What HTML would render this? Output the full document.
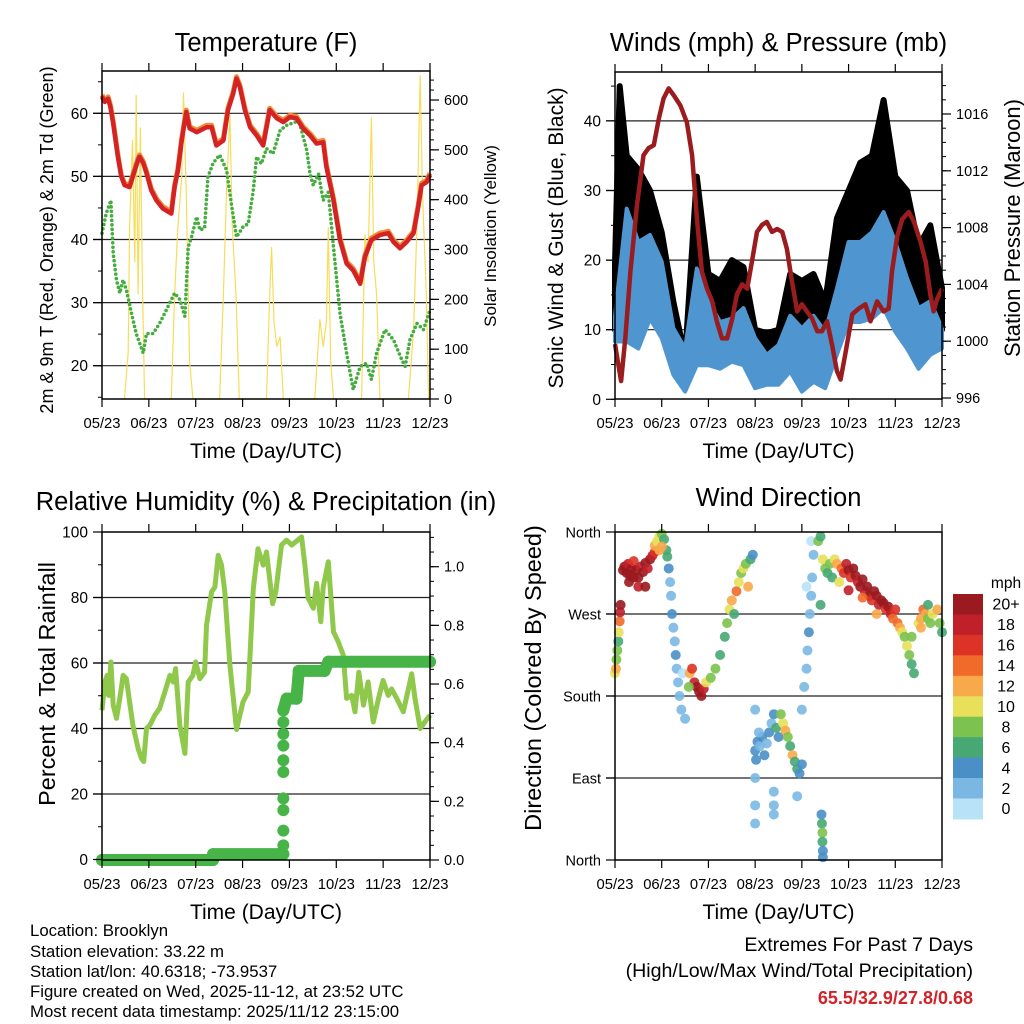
<!DOCTYPE html>
<html><head><meta charset="utf-8">
<style>
html,body{margin:0;padding:0;background:#fff;}
svg{display:block;font-family:"Liberation Sans",Arial,sans-serif;}
</style></head>
<body>
<svg id="root" width="1024" height="1024" viewBox="0 0 1024 1024" xmlns="http://www.w3.org/2000/svg">
<rect width="1024" height="1024" fill="#fff"/>
<g id="p1"></g>
<g id="p2"></g>
<g id="p3"></g>
<g id="p4"></g>
<g id="cb"></g>
<g font-size="16.8" fill="#000">
<text x="30" y="936">Location: Brooklyn</text>
<text x="30" y="957">Station elevation: 33.22 m</text>
<text x="30" y="977">Station lat/lon: 40.6318; -73.9537</text>
<text x="30" y="997">Figure created on Wed, 2025-11-12, at 23:52 UTC</text>
<text x="30" y="1017">Most recent data timestamp: 2025/11/12 23:15:00</text>
</g>
<g text-anchor="end">
<text x="973" y="951" font-size="19.6">Extremes For Past 7 Days</text>
<text x="973" y="977" font-size="19.6">(High/Low/Max Wind/Total Precipitation)</text>
<text x="973" y="1004" font-size="18" font-weight="bold" fill="#d0232a">65.5/32.9/27.8/0.68</text>
</g>
</svg>
<script>
// ---------- data ----------
const xTickLabels=["05/23","06/23","07/23","08/23","09/23","10/23","11/23","12/23"];
const tempT=[0,.06,.13,.18,.24,.34,.41,.48,.59,.66,.77,.80,.88,.95,1.05,1.16,1.30,1.41,1.48,1.55,1.62,1.70,1.80,1.87,2.02,2.23,2.34,2.44,2.59,2.69,2.80,2.87,2.94,3.05,3.16,3.30,3.44,3.58,3.73,3.87,4.01,4.15,4.29,4.44,4.58,4.72,4.79,4.94,5.08,5.22,5.36,5.51,5.61,5.75,5.93,6.11,6.22,6.36,6.50,6.65,6.75,6.82,6.93,7.0];
const temp2m=[62.6,61.8,62.3,61,58.4,53.1,50,48.6,48.3,50,52.6,53.1,52.1,50.5,47.8,46.2,44.9,44.4,44.1,48.3,50.9,55.7,60.2,57.6,57,57.8,57.8,54.9,55.7,60.5,63.1,65.5,64.2,60.5,57.8,56.5,54.9,60.5,59.2,58.6,59.4,59.2,57.6,56.5,55.2,55.4,51.5,46.2,39.9,36.2,35.1,33,37.2,39.9,40.7,41,39.6,38.6,39.6,41,45.2,48.6,49.1,50.2];
const temp9m=[62.9,62.1,62.6,61.3,58.7,53.4,50.3,48.9,48.6,50.3,52.9,53.4,52.4,50.8,48.1,46.5,45.2,44.7,44.4,48.6,51.2,56,60.5,57.9,57.3,58.1,58.1,55.2,56,60.8,63.4,65.8,64.5,60.8,58.1,56.8,55.2,60.8,59.5,58.9,59.7,59.5,57.9,56.8,55.5,55.7,51.8,46.5,40.2,36.5,35.4,33.3,37.5,40.2,41,41.3,39.9,38.9,39.9,41.3,45.5,48.9,49.4,50.5];
const dewT=[0,.09,.19,.24,.31,.38,.45,.52,.63,.73,.88,.95,1.09,1.23,1.37,1.55,1.66,1.77,1.84,1.91,2.02,2.09,2.19,2.26,2.37,2.51,2.66,2.76,2.87,3.01,3.12,3.23,3.30,3.40,3.51,3.65,3.80,3.94,4.12,4.22,4.37,4.44,4.51,4.62,4.72,4.83,4.94,5.08,5.22,5.36,5.51,5.65,5.75,5.86,6.04,6.22,6.40,6.47,6.57,6.72,6.86,7.0];
const dewVals=[41,44.1,46.2,37.8,33.6,31.5,33.6,32,28.3,25.1,22,25.1,25.1,26.7,28.8,31.5,30.5,27.8,38.8,40.4,43.6,41.5,41.8,49.9,52.1,53.4,51,45.7,40.4,42,42.5,47.8,53.1,52,54.4,53.6,57.3,58.1,58.6,58.4,54.1,50.4,48.6,50.4,46.2,47.5,38.8,28.3,22,16.2,19.9,20.4,17.8,22,25.7,24.1,20.9,19.9,24.1,26.7,25.7,28.8];
const solarT=[.48,.56,.59,.65,.70,.73,.77,.82,.86,.91,1.48,1.55,1.62,1.70,1.74,1.80,1.87,1.94,2.51,2.59,2.66,2.73,2.78,2.86,2.93,3.51,3.58,3.62,3.67,3.73,3.80,3.87,4.54,4.65,4.72,4.79,4.83,4.88,4.94,5.54,5.61,5.68,5.75,5.80,5.86,5.93,6.54,6.65,6.72,6.79,6.84,6.92,6.97];
const solarVals=[0,95,345,520,275,610,210,545,245,0,0,210,345,445,615,410,75,0,0,210,420,570,345,210,0,0,210,305,155,105,125,0,0,160,105,155,345,75,0,0,330,275,565,275,210,0,0,140,345,650,410,210,0];
const windT=[0,.25,.5,.75,1,1.25,1.5,1.75,2,2.25,2.5,2.75,3,3.25,3.5,3.75,4,4.25,4.5,4.75,5,5.25,5.5,5.75,6,6.25,6.5,6.75,7];
const sustHigh=[12,27.4,22.6,23.6,19.8,10.2,7.3,18.8,14.1,11.1,11.6,13.1,8.8,6.4,7.8,12,10.2,12,9.7,15.9,22.6,22.6,24,26.9,22.6,17.4,13.1,14.1,10.2];
const sustLow=[8.3,8.3,7.3,11.6,8.8,3.5,1.1,4.9,4.9,4.4,5.4,4.9,1.6,2.1,2.1,4,1.1,2.5,1.6,6.4,11.1,11.1,11.6,13.1,9.7,7.3,4.4,6.4,7.3];
const gustT=[0,.1,.25,.5,.75,1,1.25,1.5,1.75,2,2.25,2.5,2.75,3,3.25,3.5,3.75,4,4.25,4.5,4.75,5,5.25,5.5,5.75,6,6.25,6.5,6.75,7];
const gustHigh=[19.5,45,35,33,30,24,14,6,32,18,17,20,19,10,9.5,10,18,17,18,14,26,30,34,35,43,32,30,22,25,16];
const gustLow=[10,12,16,14,15,12,5,1.5,12,10,7,9,9,5,5,5,8,6,8,5,12,16,16,18,18,16,13,8,10,10];
const presT=[0,.08,.13,.22,.33,.47,.61,.72,.83,.94,1.04,1.15,1.26,1.40,1.54,1.65,1.76,1.86,1.97,2.08,2.18,2.29,2.40,2.51,2.61,2.72,2.83,2.93,3.04,3.15,3.25,3.36,3.47,3.58,3.68,3.79,3.90,4.00,4.11,4.22,4.33,4.43,4.54,4.65,4.75,4.83,4.93,5.08,5.22,5.36,5.47,5.61,5.75,5.86,5.93,6.04,6.15,6.29,6.40,6.54,6.65,6.75,6.82,6.90,7.0];
const presVals=[999.8,998.2,997.2,1000.2,1004.9,1009.6,1013.1,1013.6,1013.8,1015.7,1017.1,1017.8,1017.3,1016.6,1015.4,1013.1,1008.4,1004.9,1003.7,1002.8,1001.4,1000.2,1000.2,1001.6,1003.3,1004,1003.7,1005.6,1007.7,1008.2,1008.4,1007.7,1007.9,1007.7,1006.5,1004.2,1002.1,1002.6,1002.1,1001.6,1000.7,1000.7,1001.4,999.7,997.9,997.3,999.1,1001.9,1002.3,1002.6,1001.4,1002.8,1002.1,1002.3,1004.9,1007.4,1008.6,1009.1,1008.4,1007,1005.6,1003.3,1002.1,1003,1003.7];
const rhT=[0,.06,.11,.14,.19,.24,.31,.38,.45,.52,.59,.66,.77,.84,.89,.95,1.02,1.13,1.23,1.34,1.45,1.52,1.57,1.66,1.77,1.84,1.94,2.00,2.09,2.19,2.23,2.34,2.41,2.48,2.55,2.62,2.73,2.87,3.01,3.12,3.23,3.33,3.44,3.51,3.64,3.71,3.83,3.94,4.05,4.26,4.33,4.40,4.51,4.58,4.67,4.72,4.83,4.94,5.04,5.15,5.22,5.33,5.40,5.48,5.58,5.68,5.79,5.90,6.00,6.11,6.18,6.29,6.43,6.54,6.61,6.68,6.79,6.89,7.0];
const rhVals=[45.6,54.2,56.2,50.1,60.3,47.1,43.1,49.2,56.2,55.2,48.1,41,33.9,30.9,29.9,40,41,44.1,46.1,51.1,56.2,54.2,58.3,41,32.4,54.2,56.2,60.3,55.2,57.2,71.5,81.7,83.2,92.9,89.9,81.7,59.4,39.7,48.1,51.1,82.7,94.9,89.9,93.9,78.1,81.7,96,97.5,96,98.5,89.9,79.8,76.7,84.3,72.6,83.2,90.9,69.5,66.5,62.4,49.2,50.1,45.1,57.2,47.1,54.2,42,49.2,54.7,50.1,52.1,49.2,45.1,52.1,56.7,49.2,40,42,44.1];
const rainT=[0,2.37,2.37,3.87,3.87,3.87,3.87,3.87,3.87,3.87,3.87,3.87,3.87,3.87,3.94,4.15,4.2,4.75,4.83,7.0];
const rainVals=[0,0,0.02,0.02,0.05,0.1,0.17,0.21,0.3,0.34,0.39,0.43,0.47,0.51,0.55,0.55,0.645,0.645,0.676,0.676];
const dirT=[0,.02,.03,.05,.07,.08,.1,.11,.12,.17,.2,.25,.28,.32,.36,.4,.45,.5,.55,.6,.65,.7,.75,.8,.85,.3,.5,.65,.4,.85,.9,.95,1.0,1.05,1.1,1.12,1.0,.95,1.15,1.18,1.2,1.22,1.25,1.28,1.3,1.32,1.35,1.38,1.42,1.5,1.45,1.6,1.65,1.7,1.75,1.8,1.85,1.9,1.95,1.58,2.05,2.15,2.25,2.35,2.4,2.45,2.5,2.6,2.65,2.7,2.75,2.8,2.9,2.95,2.85,2.55,3.0,3.05,3.1,3.15,3.2,3.25,3.3,3.35,3.4,3.45,3.5,3.02,3.08,3.0,3.0,3.0,3.4,3.4,3.4,3.0,3.55,3.6,3.65,3.7,3.75,3.8,3.85,3.9,3.95,4.0,3.9,4.0,4.05,4.1,4.12,4.15,4.17,4.2,4.22,4.1,4.25,4.2,4.42,4.43,4.44,4.44,4.45,4.45,4.35,4.4,4.45,4.5,4.55,4.6,4.65,4.7,4.75,4.8,4.4,4.85,4.9,4.95,5.0,5.05,5.1,5.15,5.2,5.25,5.3,5.35,5.4,5.45,5.5,5.55,5.6,5.65,5.7,5.75,5.8,5.85,5.9,5.95,6.0,6.05,5.0,5.3,5.6,6.1,6.15,6.2,6.25,6.3,6.35,6.4,6.35,6.5,6.55,6.6,6.65,6.7,6.75,6.8,6.9,6.95,7.0,6.55,6.7];
const dirDeg=[205,210,220,230,240,250,262,272,280,318,322,315,325,312,320,328,318,310,322,316,326,320,330,334,338,305,300,300,310,345,350,355,358,352,340,333,344,340,320,305,290,270,255,240,225,210,195,180,165,155,205,205,210,195,190,185,180,188,195,190,200,210,225,245,260,275,285,295,305,315,320,325,330,335,300,270,120,130,125,135,115,128,140,150,160,145,135,110,140,90,60,40,75,60,50,165,160,150,142,135,125,115,108,100,95,105,70,165,190,210,230,250,270,290,310,300,335,350,50,40,30,20,10,3,350,355,330,320,315,325,310,330,325,305,280,320,315,325,318,310,320,312,305,300,308,295,300,290,285,295,290,280,285,282,275,278,270,265,275,260,296,288,270,255,250,245,235,225,215,205,245,260,265,275,270,265,260,270,275,260,250,255,280];
const dirSpd=[10,12,9,8,7,10,14,18,20,20,22,20,18,22,20,16,22,20,18,22,20,18,20,18,16,21,19,22,23,12,10,11,8,7,6,6,12,13,4,3,2,4,3,2,4,2,3,2,3,2,1,12,16,18,20,22,20,18,10,8,8,9,7,6,8,10,12,14,10,9,11,8,6,4,12,6,4,4,3,5,4,3,4,3,4,6,5,5,2,2,2,2,2,2,2,2,8,10,12,8,7,12,6,6,5,4,2,2,3,2,3,4,2,3,2,1,3,1,4,6,8,6,4,4,8,6,10,8,6,9,6,10,12,10,7,14,16,18,20,16,22,20,18,22,20,18,22,20,16,22,20,18,22,20,16,20,18,14,16,15,19,15,13,12,10,8,10,9,7,6,8,10,12,14,12,9,8,10,12,8,7,13,6];
const speedColors=["#b7e2f7","#7ab8e3","#4a8fc6","#47a873","#7cc24e","#e8e05a","#f8a94a","#f06a2a","#dd3327","#c0202a","#9a1a1f"];
const speedLabels=["0","2","4","6","8","10","12","14","16","18","20+"];

// ---------- helpers ----------
const NS="http://www.w3.org/2000/svg";
function mk(parent,tag,attrs,text){const e=document.createElementNS(NS,tag);for(const k in attrs)e.setAttribute(k,attrs[k]);if(text!==undefined)e.textContent=text;parent.appendChild(e);return e;}
function pts(ts,vs,sx,sy){const n=Math.min(ts.length,vs.length);let a=[];for(let i=0;i<n;i++)a.push(sx(ts[i]).toFixed(1)+","+sy(vs[i]).toFixed(1));return a;}

function frame(g,P,opt){
  const sx=t=>P.x0+t/7*(P.x1-P.x0);
  opt.grid.forEach(v=>{const y=opt.ly(v);
    const l=mk(g,"line",{x1:P.x0-9,x2:P.x1,y1:y,y2:y,stroke:"#222","stroke-width":1.2});
    
    });
  return sx;
}
function axes(g,P,opt){
  const sx=t=>P.x0+t/7*(P.x1-P.x0);
  mk(g,"rect",{x:P.x0,y:P.y0,width:P.x1-P.x0,height:P.y1-P.y0,fill:"none",stroke:"#000","stroke-width":1.5});
  for(let d=0;d<=7;d++){const x=sx(d);
    mk(g,"line",{x1:x,x2:x,y1:P.y0,y2:P.y0-8,stroke:"#000","stroke-width":1.2});
    mk(g,"line",{x1:x,x2:x,y1:P.y1,y2:P.y1+8,stroke:"#000","stroke-width":1.2});
    const tl=mk(g,"text",{x:x,y:P.y1+29,"font-size":14.8,"text-anchor":"middle"},xTickLabels[d]);
    
    }
  const xt=mk(g,"text",{x:(P.x0+P.x1)/2,y:P.y1+59,"font-size":21,"text-anchor":"middle"},"Time (Day/UTC)");
  
  
  opt.lMinor.forEach(v=>{const y=opt.ly(v);mk(g,"line",{x1:P.x0,x2:P.x0-4,y1:y,y2:y,stroke:"#000"});});
  opt.lMajor.forEach((v,i)=>{const y=opt.ly(v);mk(g,"line",{x1:P.x0,x2:P.x0-9,y1:y,y2:y,stroke:"#000","stroke-width":1.2});
    const t=mk(g,"text",{x:P.x0-14,y:y+5.5,"font-size":opt.lfs||15.5,"text-anchor":"end"},opt.lLab[i]);
    
    });
  if(opt.ry){
    opt.rMinor.forEach(v=>{const y=opt.ry(v);mk(g,"line",{x1:P.x1,x2:P.x1+4,y1:y,y2:y,stroke:"#000"});});
    opt.rMajor.forEach((v,i)=>{const y=opt.ry(v);mk(g,"line",{x1:P.x1,x2:P.x1+9,y1:y,y2:y,stroke:"#000","stroke-width":1.2});
      const t=mk(g,"text",{x:P.x1+14,y:y+5,"font-size":14.5},opt.rLab[i]);
      
      });
  }
  const ti=mk(g,"text",{x:(P.x0+P.x1)/2,y:P.y0-opt.titleOff,"font-size":opt.tfs||25.5,"text-anchor":"middle"},opt.title);
  
  
  const cy=opt.lty||(P.y0+P.y1)/2;
  const lt=mk(g,"text",{x:0,y:0,"font-size":opt.ltfs,"text-anchor":"middle",transform:`translate(${opt.ltx},${cy}) rotate(-90)`},opt.lTitle);
  
  
  if(opt.rTitle){const rt=mk(g,"text",{x:0,y:0,"font-size":opt.rtfs,"text-anchor":"middle",transform:`translate(${opt.rtx},${opt.rty||cy}) rotate(-90)`},opt.rTitle);
    
    }
}
function range(a,b,s){let r=[];for(let v=a;v<=b+1e-9;v+=s)r.push(+v.toFixed(4));return r;}

// ---------- Panel 1 ----------
(function(){
  const g=document.getElementById("p1");const P={x0:102,x1:430,y0:71,y1:399};
  const ly=v=>113.3+(60-v)*6.31, ry=v=>399-v*0.4983;
  const sx=frame(g,P,{grid:[20,30,40,50,60],ly});
  const sol=mk(g,"polyline",{points:pts(solarT,solarVals,sx,ry).join(" "),fill:"none",stroke:"#f7dc5a","stroke-width":1.2});
  
  
  const dw=mk(g,"polyline",{points:pts(dewT,dewVals,sx,ly).join(" "),fill:"none",stroke:"#45ad3f","stroke-width":3.6,"stroke-dasharray":"0 4.5","stroke-linecap":"round","stroke-linejoin":"round"});
  
  
  const t9=mk(g,"polyline",{points:pts(tempT,temp9m,sx,ly).join(" "),fill:"none",stroke:"#f08a35","stroke-width":5,"stroke-linejoin":"round"});
  
  
  const t2=mk(g,"polyline",{points:pts(tempT,temp2m,sx,ly).join(" "),fill:"none",stroke:"#d42325","stroke-width":4.5,"stroke-linejoin":"round"});
  
  
  axes(g,P,{ly,ry,lMajor:[20,30,40,50,60],lLab:["20","30","40","50","60"],lMinor:range(15,65,5),
    rMajor:[0,100,200,300,400,500,600],rLab:["0","100","200","300","400","500","600"],rMinor:range(0,640,20),
    title:"Temperature (F)",titleOff:20,lTitle:"2m & 9m T (Red, Orange) & 2m Td (Green)",ltfs:18,ltx:53,lty:240,
    rTitle:"Solar Insolation (Yellow)",rtfs:17,rtx:496,rty:236});
})();

// ---------- Panel 2 ----------
(function(){
  const g=document.getElementById("p2");const P={x0:615,x1:942,y0:72,y1:399};
  const ly=v=>399.3-v*6.96, ry=v=>398-(v-996)*14.2;
  const sx=frame(g,P,{grid:[10,20,30,40],ly});
  const gp=pts(gustT,gustHigh,sx,ly).concat(pts(gustT,gustLow,sx,ly).reverse());
  const gb=mk(g,"polygon",{points:gp.join(" "),fill:"#000",stroke:"#000","stroke-width":6,"stroke-linejoin":"round"});
  
  
  const sp=pts(windT,sustHigh,sx,ly).concat(pts(windT,sustLow,sx,ly).reverse());
  const sb=mk(g,"polygon",{points:sp.join(" "),fill:"#4f96d0",stroke:"#4f96d0","stroke-width":4,"stroke-linejoin":"round"});
  
  
  const pl=mk(g,"polyline",{points:pts(presT,presVals,sx,ry).join(" "),fill:"none",stroke:"#9b1c1f","stroke-width":4.5,"stroke-linejoin":"round"});
  
  
  axes(g,P,{ly,ry,lMajor:[0,10,20,30,40],lLab:["0","10","20","30","40"],lMinor:range(0,45,5),
    rMajor:[996,1000,1004,1008,1012,1016],rLab:["996","1000","1004","1008","1012","1016"],rMinor:range(996,1018,1),
    title:"Winds (mph) & Pressure (mb)",titleOff:21,lTitle:"Sonic Wind & Gust (Blue, Black)",ltfs:21,ltx:563,lty:238,
    rTitle:"Station Pressure (Maroon)",rtfs:22,rtx:1020,rty:228});
})();

// ---------- Panel 3 ----------
(function(){
  const g=document.getElementById("p3");const P={x0:102,x1:430,y0:532,y1:860};
  const ly=v=>859.5-v*3.275, ry=v=>860-v*293.3;
  const sx=frame(g,P,{grid:[20,40,60,80],ly});
  const rh=mk(g,"polyline",{points:pts(rhT,rhVals,sx,ly).join(" "),fill:"none",stroke:"#8fc84a","stroke-width":5,"stroke-linejoin":"round"});
  
  
  for(let i=0;i<rainT.length-1;i++){
    if(Math.abs(rainT[i+1]-rainT[i])>0.001){
      mk(g,"line",{x1:sx(rainT[i]),y1:ry(rainVals[i]),x2:sx(rainT[i+1]),y2:ry(rainVals[i+1]),stroke:"#46b446","stroke-width":12,"stroke-linecap":"round"});
    }
  }
  for(let i=0;i<rainT.length;i++){
    const c=mk(g,"circle",{cx:sx(rainT[i]),cy:ry(rainVals[i]),r:6,fill:"#46b446"});
    
    
  }
  axes(g,P,{ly,ry,lMajor:[0,20,40,60,80,100],lLab:["0","20","40","60","80","100"],lMinor:range(0,100,10),
    rMajor:[0,.2,.4,.6,.8,1.0],rLab:["0.0","0.2","0.4","0.6","0.8","1.0"],rMinor:range(0,1.1,.05),
    title:"Relative Humidity (%) & Precipitation (in)",titleOff:22,lTitle:"Percent & Total Rainfall",ltfs:23.5,ltx:55,lty:684});
})();

// ---------- Panel 4 ----------
(function(){
  const g=document.getElementById("p4");const P={x0:615,x1:942,y0:532,y1:860};
  const ly=v=>860-v*(328/360);
  const sx=frame(g,P,{grid:[90,180,270],ly});
  const n=Math.min(dirT.length,dirDeg.length,dirSpd.length);
  for(let i=0;i<n;i++){
    const idx=Math.max(0,Math.min(10,Math.floor(dirSpd[i]/2)));
    const c=mk(g,"circle",{cx:sx(dirT[i]),cy:ly(dirDeg[i]),r:5,fill:speedColors[idx],"fill-opacity":0.9});
    
    
  }
  axes(g,P,{ly,lMajor:[0,90,180,270,360],lLab:["North","East","South","West","North"],lMinor:[],lfs:14.5,
    title:"Wind Direction",titleOff:26,lTitle:"Direction (Colored By Speed)",ltfs:23.5,ltx:541,lty:678});
})();

// ---------- Colorbar ----------
(function(){
  const g=document.getElementById("cb");
  const top=594,h=20.45,x=953,w=30;
  for(let i=0;i<speedColors.length;i++){
    const j=speedColors.length-1-i;
    const r=mk(g,"rect",{x:x,y:top+i*h,width:w,height:h+0.5,fill:speedColors[j]});
    
    
    const t=mk(g,"text",{x:1006,y:top+i*h+h/2+5.5,"font-size":16,"text-anchor":"middle"},speedLabels[j]);
    
    
  }
  const u=mk(g,"text",{x:1006,y:588,"font-size":15.5,"text-anchor":"middle"},"mph");
  
  
})();
</script>
</body></html>
